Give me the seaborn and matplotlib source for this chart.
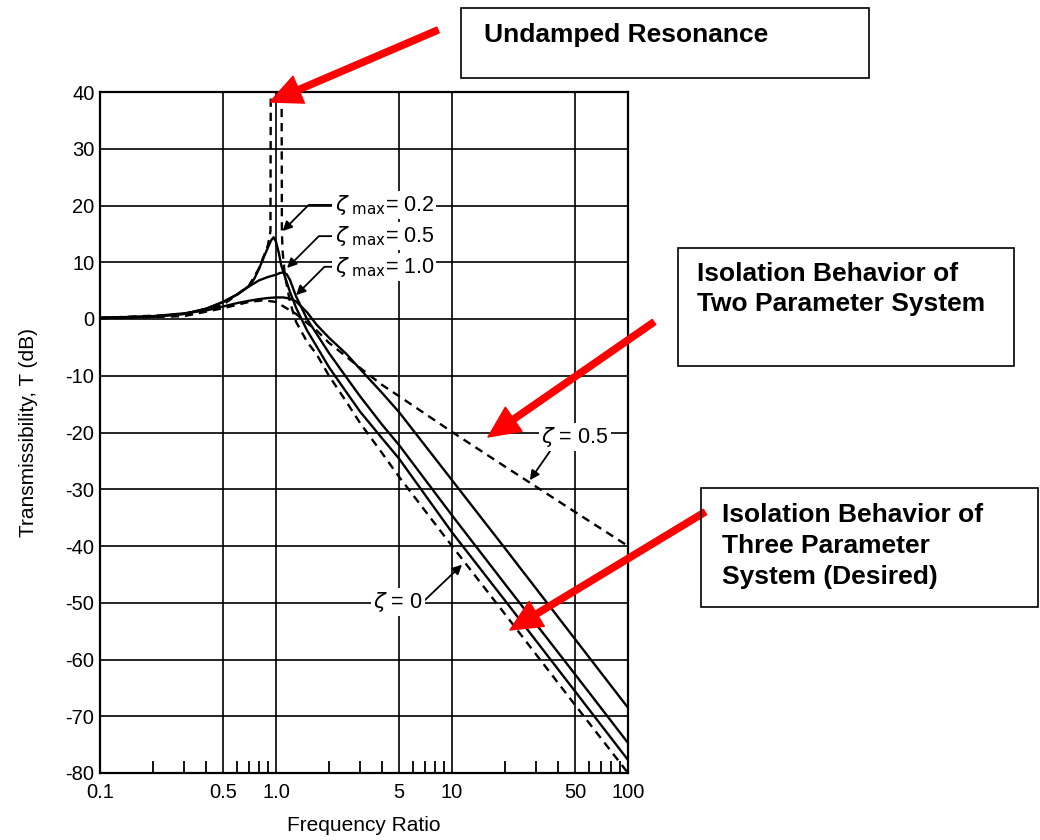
import matplotlib
matplotlib.use("Agg")
import matplotlib.pyplot as plt
import seaborn as sns
import pandas as pd
from matplotlib.patches import Rectangle
from matplotlib.ticker import NullFormatter

# === DATOS ===
# three parameter system, zeta_max = 0.2 / 0.5 / 1.0 (solid)
zmax02_x = [0.1, 0.2, 0.3, 0.4, 0.5, 0.6, 0.7, 0.75, 0.8, 0.85, 0.9, 0.94, 0.97, 1.0, 1.04,
            1.07, 1.15, 1.2, 1.3, 1.5, 1.7, 2, 2.5, 3, 4, 5, 10, 20, 50, 100]
zmax02_y = [0.2, 0.4, 0.9, 1.8, 3.0, 4.3, 5.8, 7.0, 8.8, 10.8, 12.6, 13.9, 14.4, 13.6, 11.5,
            9.5, 6.5, 4.8, 2.0, -2.0, -4.8, -8.5, -12.8, -16.3, -21.0, -24.6, -37.6, -49.6,
            -65.6, -77.7]

zmax05_x = [0.1, 0.2, 0.3, 0.4, 0.5, 0.6, 0.7, 0.8, 0.9, 1.0, 1.05, 1.1, 1.15, 1.2, 1.3, 1.5,
            1.7, 2, 2.5, 3, 4, 5, 10, 20, 50, 100]
zmax05_y = [0.2, 0.4, 0.9, 1.8, 3.0, 4.3, 5.7, 6.8, 7.4, 7.8, 8.1, 8.2, 7.9, 6.9, 4.0, 0.0,
            -2.6, -6.0, -10.2, -13.6, -18.6, -22.2, -34.6, -46.7, -62.6, -74.7]

zmax10_x = [0.1, 0.2, 0.3, 0.4, 0.5, 0.6, 0.7, 0.8, 0.9, 1.0, 1.1, 1.2, 1.3, 1.5, 1.7, 2, 2.5,
            3, 4, 5, 10, 20, 50, 100]
zmax10_y = [0.2, 0.5, 1.0, 1.5, 2.2, 2.8, 3.2, 3.5, 3.7, 3.8, 3.8, 3.6, 3.1, 1.2, -1.0, -3.3,
            -6.1, -8.8, -13.0, -16.4, -28.4, -40.4, -56.4, -68.5]

# two parameter system (dashed): zeta = 0 and zeta = 0.5
z0_x = [0.1, 0.3, 0.5, 0.7, 0.8, 0.9, 0.93, 0.935, 1.075, 1.08, 1.09, 1.12, 1.2, 1.3, 1.5, 1.7,
        2, 2.5, 3, 4, 5, 10, 20, 50, 100]
z0_y = [0.2, 0.8, 2.5, 5.8, 8.9, 13.0, 15.5, 50.0, 50.0, 15.5, 12.0, 8.0, 3.0, -0.5, -4.0, -6.2,
        -10.0, -14.5, -18.3, -23.6, -27.8, -40.0, -52.0, -68.0, -80.0]

z05_x = [0.1, 0.3, 0.5, 0.7, 0.85, 1.0, 1.3, 1.5, 1.7, 2, 2.5, 3, 4, 5, 10, 20, 50, 100]
z05_y = [0.1, 0.5, 1.9, 3.0, 3.3, 3.0, 0.9, -0.7, -2.0, -4.2, -6.6, -8.6, -11.6, -13.6, -19.9,
         -26.0, -34.0, -40.0]

# ejes
x_major = [0.1, 0.5, 1.0, 5, 10, 50, 100]
x_labels = ["0.1", "0.5", "1.0", "5", "10", "50", "100"]
x_minor = [0.2, 0.3, 0.4, 0.6, 0.7, 0.8, 0.9, 2, 3, 4, 6, 7, 8, 9, 20, 30, 40, 60, 70, 80, 90]
y_ticks = [40, 30, 20, 10, 0, -10, -20, -30, -40, -50, -60, -70, -80]

W, H = 1040, 840

sns.set_style("white")
plt.rcParams['font.family'] = ['Liberation Sans', 'DejaVu Sans']
plt.rcParams['mathtext.fontset'] = 'dejavusans'
for k in ['text.color', 'axes.labelcolor', 'xtick.color', 'ytick.color']:
    plt.rcParams[k] = 'black'

fig = plt.figure(figsize=(W / 100, H / 100), dpi=100)
ax = fig.add_axes([100 / W, 67 / H, 528 / W, 681 / H])

solid = dict(color="black", lw=1.7, estimator=None, sort=False, ax=ax)
for xs, ys in [(zmax02_x, zmax02_y), (zmax05_x, zmax05_y), (zmax10_x, zmax10_y)]:
    sns.lineplot(data=pd.DataFrame({"r": xs, "T": ys}), x="r", y="T", **solid)
for xs, ys in [(z0_x, z0_y), (z05_x, z05_y)]:
    sns.lineplot(data=pd.DataFrame({"r": xs, "T": ys}), x="r", y="T", linestyle=(0, (3.5, 2.5)),
                 **solid)

ax.set_xscale("log")
ax.set_xlim(0.1, 100)
ax.set_ylim(-80, 40)
ax.set_xticks(x_major)
ax.set_xticklabels(x_labels)
ax.set_xticks(x_minor, minor=True)
ax.xaxis.set_minor_formatter(NullFormatter())
ax.set_yticks(y_ticks)
ax.set_yticklabels([str(v) for v in y_ticks])
ax.tick_params(axis="x", which="major", length=0, pad=7, labelsize=14.5)
ax.tick_params(axis="x", which="minor", direction="in", length=8.5, width=1.3,
               color="black", bottom=True, top=False)
ax.tick_params(axis="y", length=0, pad=4, labelsize=14.5)
ax.grid(True, which="major", color="black", lw=1.2)
for s in ax.spines.values():
    s.set_color("black")
    s.set_linewidth(1.6)
ax.set_xlabel("Frequency Ratio", fontsize=15, labelpad=10)
ax.set_ylabel("Transmissibility, T (dB)", fontsize=15, labelpad=20)

# etiquetas de las curvas
lbl_box = dict(facecolor="white", edgecolor="none", pad=1.5)
arr = dict(arrowstyle="-|>", color="black", lw=1.3, mutation_scale=14, shrinkA=0, shrinkB=0)
for txt, tip, pos in [(r"$\zeta_{\ \rm max}$= 0.2", (1.09, 15.5), (2.15, 20.1)),
                      (r"$\zeta_{\ \rm max}$= 0.5", (1.156, 9.0), (2.15, 14.6)),
                      (r"$\zeta_{\ \rm max}$= 1.0", (1.30, 4.2), (2.15, 9.2))]:
    ax.annotate(txt, xy=tip, xytext=pos, fontsize=15.5, ha="left", va="center", bbox=lbl_box,
                arrowprops=dict(relpos=(0, 0.5),
                                connectionstyle="angle,angleA=0,angleB=45,rad=0", **arr))

ax.annotate(r"$\zeta$ = 0.5", xy=(27.7, -28.4), xytext=(50, -20.8), fontsize=15.5,
            ha="center", va="center", bbox=lbl_box,
            arrowprops=dict(relpos=(0.15, 0), **arr))
ax.annotate(r"$\zeta$ = 0", xy=(11.4, -43.3), xytext=(4.93, -49.9), fontsize=15.5,
            ha="center", va="center", bbox=lbl_box,
            arrowprops=dict(relpos=(1, 0.5), **arr))

# cuadros de texto
boxes = [((461, 8, 869, 78), "Undamped Resonance", (484, 35), 1.2),
         ((678, 248, 1014, 366), "Isolation Behavior of\nTwo Parameter System", (697, 289), 1.3),
         ((701, 488, 1038, 607), "Isolation Behavior of\nThree Parameter\nSystem (Desired)",
          (722, 546), 1.35)]
for (x0, y0, x1, y1), txt, (tx, ty), lsp in boxes:
    fig.add_artist(Rectangle((x0 / W, 1 - y1 / H), (x1 - x0) / W, (y1 - y0) / H,
                             transform=fig.transFigure, fill=False, ec="black", lw=1.2))
    fig.text(tx / W, 1 - ty / H, txt, fontsize=19, fontweight="bold", ha="left", va="center",
             linespacing=lsp)

# flechas rojas
red = dict(arrowstyle="simple,head_length=1.5,head_width=1.4,tail_width=0.3", fc="red",
           ec="red", mutation_scale=15, shrinkA=0, shrinkB=0)
for (tx, ty), (hx, hy) in [((438, 30), (270, 102)), ((654, 322), (488, 437)),
                           ((705, 512), (510, 630))]:
    ax.annotate("", xy=(hx, H - hy), xycoords="figure pixels", xytext=(tx, H - ty),
                textcoords="figure pixels", arrowprops=red, annotation_clip=False)

fig.savefig("out.png", dpi=100)
